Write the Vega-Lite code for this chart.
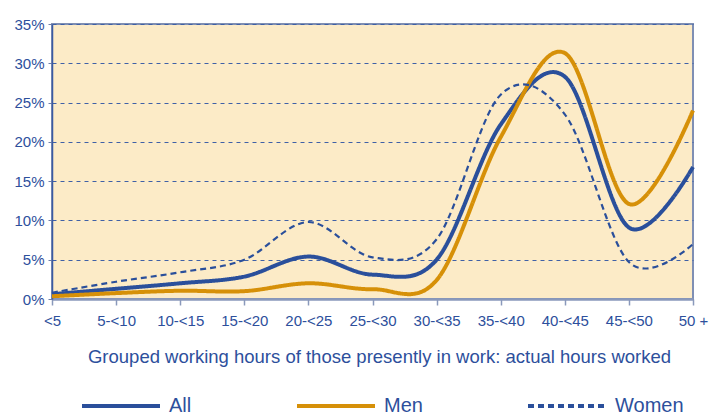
{
  "$schema": "https://vega.github.io/schema/vega-lite/v6.json",
  "width": 641,
  "height": 275,
  "autosize": {"type": "none"},
  "padding": {"left": 52, "top": 24, "right": 16, "bottom": 115},
  "background": "white",
  "config": {
    "font": "Liberation Sans",
    "view": {"fill": "#fcebc7", "stroke": "#7f8fb4", "strokeWidth": 2},
    "axis": {"labelColor": "#2d4f9c", "titleColor": "#2d4f9c", "labelFont": "Liberation Sans", "titleFont": "Liberation Sans", "titleFontWeight": "normal"}
  },
  "data": {
    "values": [
      {"hours": "<5", "series": "All", "pct": 0.6},
      {"hours": "5-<10", "series": "All", "pct": 1.3},
      {"hours": "10-<15", "series": "All", "pct": 2.0},
      {"hours": "15-<20", "series": "All", "pct": 2.85},
      {"hours": "20-<25", "series": "All", "pct": 5.4},
      {"hours": "25-<30", "series": "All", "pct": 3.1},
      {"hours": "30-<35", "series": "All", "pct": 5.0},
      {"hours": "35-<40", "series": "All", "pct": 22.2},
      {"hours": "40-<45", "series": "All", "pct": 28.3},
      {"hours": "45-<50", "series": "All", "pct": 9.1},
      {"hours": "50 +", "series": "All", "pct": 16.8},
      {"hours": "<5", "series": "Men", "pct": 0.35},
      {"hours": "5-<10", "series": "Men", "pct": 0.75},
      {"hours": "10-<15", "series": "Men", "pct": 1.05},
      {"hours": "15-<20", "series": "Men", "pct": 1.0},
      {"hours": "20-<25", "series": "Men", "pct": 2.0},
      {"hours": "25-<30", "series": "Men", "pct": 1.25},
      {"hours": "30-<35", "series": "Men", "pct": 2.4},
      {"hours": "35-<40", "series": "Men", "pct": 20.6},
      {"hours": "40-<45", "series": "Men", "pct": 31.3},
      {"hours": "45-<50", "series": "Men", "pct": 12.1},
      {"hours": "50 +", "series": "Men", "pct": 24.0},
      {"hours": "<5", "series": "Women", "pct": 0.8},
      {"hours": "5-<10", "series": "Women", "pct": 2.2},
      {"hours": "10-<15", "series": "Women", "pct": 3.4},
      {"hours": "15-<20", "series": "Women", "pct": 5.0},
      {"hours": "20-<25", "series": "Women", "pct": 9.8},
      {"hours": "25-<30", "series": "Women", "pct": 5.3},
      {"hours": "30-<35", "series": "Women", "pct": 7.6},
      {"hours": "35-<40", "series": "Women", "pct": 26.0},
      {"hours": "40-<45", "series": "Women", "pct": 23.5},
      {"hours": "45-<50", "series": "Women", "pct": 4.7},
      {"hours": "50 +", "series": "Women", "pct": 7.0}
    ]
  },
  "mark": {"type": "line", "interpolate": "cardinal", "strokeCap": "butt"},
  "encoding": {
    "x": {
      "field": "hours", "type": "ordinal", "sort": null,
      "scale": {"type": "point", "padding": 0},
      "axis": {
        "title": "Grouped working hours of those presently in work: actual hours worked",
        "titleFontSize": 18.5, "titlePadding": 19, "titleX": 327, "titleAlign": "center",
        "labelAngle": 0, "labelFontSize": 15, "labelPadding": 8,
        "domainColor": "#8a99bb", "domainWidth": 2.5,
        "tickColor": "#8a99bb", "tickSize": 6, "tickWidth": 1.5,
        "grid": false
      }
    },
    "y": {
      "field": "pct", "type": "quantitative",
      "scale": {"domain": [0, 35], "nice": false},
      "axis": {
        "title": null, "values": [0, 5, 10, 15, 20, 25, 30, 35],
        "labelExpr": "datum.value + '%'", "labelFontSize": 15, "labelPadding": 4,
        "domainColor": "#3a5aa2", "domainWidth": 1.5,
        "tickColor": "#6f80aa", "tickSize": 4, "tickWidth": 1,
        "grid": true, "gridColor": "#3f60a6", "gridDash": [4, 4], "gridWidth": 1
      }
    },
    "color": {
      "field": "series", "type": "nominal",
      "scale": {"domain": ["All", "Men", "Women"], "range": ["#2a4f9b", "#d69008", "#2a4f9b"]},
      "legend": {
        "title": null, "orient": "none", "direction": "horizontal",
        "legendX": 28, "legendY": 341, "padding": 0,
        "symbolType": "stroke", "symbolSize": 6084, "symbolStrokeWidth": 4,
        "labelFontSize": 20, "labelColor": "#2d4f9c", "labelOffset": 7,
        "columnPadding": 97, "labelFont": "Liberation Sans"
      }
    },
    "strokeDash": {
      "field": "series", "type": "nominal",
      "scale": {"domain": ["All", "Men", "Women"], "range": [[1, 0], [1, 0], [6, 4]]},
      "legend": {
        "title": null, "orient": "none", "direction": "horizontal",
        "legendX": 28, "legendY": 341, "padding": 0,
        "symbolType": "stroke", "symbolSize": 6084, "symbolStrokeWidth": 4,
        "labelFontSize": 20, "labelColor": "#2d4f9c", "labelOffset": 7,
        "columnPadding": 97, "labelFont": "Liberation Sans"
      }
    },
    "strokeWidth": {
      "condition": {"test": "datum.series === 'Women'", "value": 2.2},
      "value": 4
    }
  }
}
